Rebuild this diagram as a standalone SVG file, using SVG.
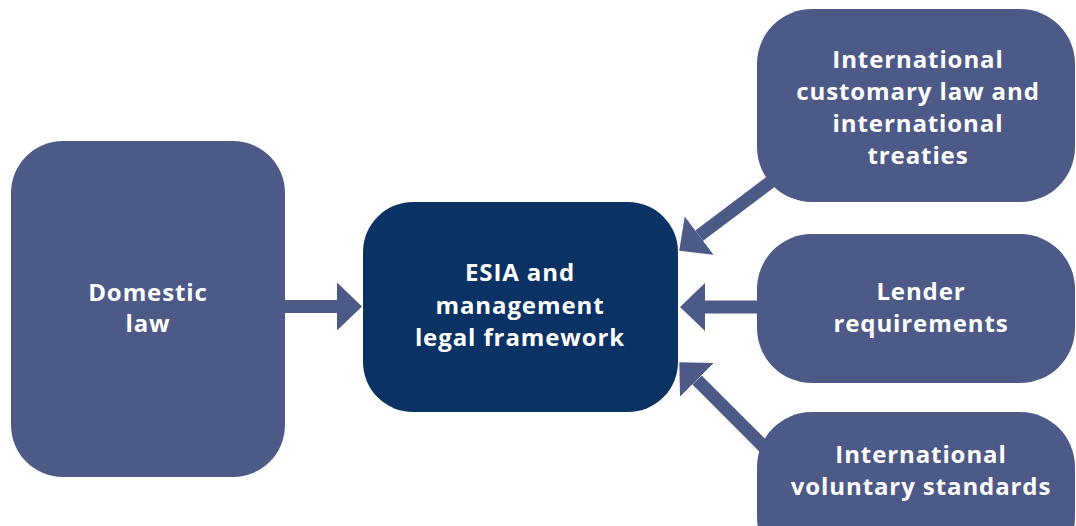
<svg xmlns="http://www.w3.org/2000/svg" width="1076" height="526" viewBox="0 0 1076 526">
<style>
.box{fill:#4d5a87}
.core{fill:#0b3264}
.lbl{fill:#ffffff;font-family:"Open Sans","Noto Sans","Liberation Sans",sans-serif;font-weight:700;font-size:24px;text-anchor:middle;letter-spacing:0.9px}
.arr{stroke:#4d5a87;stroke-width:13;fill:none}
</style>
<defs>
<marker id="head" viewBox="0 0 25 48" markerWidth="25" markerHeight="48" markerUnits="userSpaceOnUse" refX="0" refY="24" orient="auto">
<path d="M0,0 L25,24 L0,48 Z" fill="#4d5a87"/>
</marker>
</defs>
<rect width="1076" height="526" fill="#ffffff"/>
<g id="connectors">
<line class="arr" x1="280" y1="306.5" x2="337" y2="306.5" marker-end="url(#head)"/>
<line class="arr" x1="762" y1="307" x2="705" y2="307" marker-end="url(#head)"/>
<line class="arr" x1="785" y1="171" x2="699.2" y2="235.6" marker-end="url(#head)"/>
<line class="arr" x1="785" y1="468" x2="697" y2="380" marker-end="url(#head)"/>
</g>
<g id="domestic">
<rect class="box" x="11" y="141" width="274" height="336" rx="52"/>
<text class="lbl" x="148" y="301">Domestic</text>
<text class="lbl" x="148" y="332">law</text>
</g>
<g id="esia">
<rect class="core" x="363" y="202" width="315" height="210" rx="50"/>
<text class="lbl" x="520" y="281">ESIA and</text>
<text class="lbl" x="520" y="314">management</text>
<text class="lbl" x="520" y="346">legal framework</text>
</g>
<g id="international-customary">
<rect class="box" x="757" y="9" width="318" height="193" rx="55"/>
<text class="lbl" x="918" y="68">International</text>
<text class="lbl" x="918" y="100">customary law and</text>
<text class="lbl" x="918" y="132">international</text>
<text class="lbl" x="918" y="164">treaties</text>
</g>
<g id="lender">
<rect class="box" x="757" y="234" width="318" height="149" rx="55"/>
<text class="lbl" x="921" y="300">Lender</text>
<text class="lbl" x="921" y="332">requirements</text>
</g>
<g id="voluntary">
<rect class="box" x="757" y="412" width="318" height="160" rx="55"/>
<text class="lbl" x="921" y="463">International</text>
<text class="lbl" x="921" y="495">voluntary standards</text>
</g>
</svg>
